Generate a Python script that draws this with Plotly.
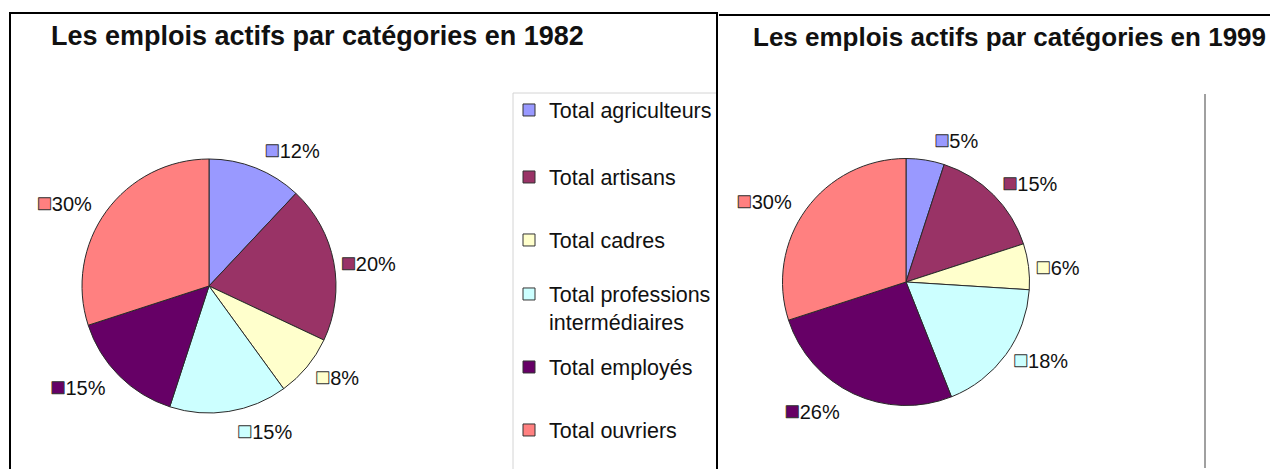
import math
import plotly.graph_objects as go

# ---- data ----
categories = [
    "Total agriculteurs",
    "Total artisans",
    "Total cadres",
    "Total professions<br>intermédiaires",
    "Total employés",
    "Total ouvriers",
]
values_1982 = [12, 20, 8, 15, 15, 30]
values_1999 = [5, 15, 6, 18, 26, 30]
colors = ["#9999FF", "#993366", "#FFFFCC", "#CCFFFF", "#660066", "#FF8080"]
titles = [
    "Les emplois actifs par catégories en 1982",
    "Les emplois actifs par catégories en 1999",
]

W, H = 1270, 469
def px(x):
    return x / W
def py(y):
    return 1 - y / H

FONT = "Liberation Sans, Arial, Helvetica, sans-serif"
NB = "\u00a0"

def key(c):
    return (f"<span style='color:{c};stroke:#333333;stroke-width:0.9px;"
            f"font-size:25px'>■</span>")

def label_templates(values):
    """Outside labels: coloured key + percentage, with a little extra
    vertical padding for labels sitting above / below the pie."""
    total = sum(values)
    out, cum = [], 0
    for v, c in zip(values, colors):
        mid = (cum + v / 2) / total * 2 * math.pi   # clockwise from 12 o'clock
        cum += v
        body = f"<span style='font-size:20px'>{key(c)}%{{percent:.0%}}{NB}</span>"
        vert = math.cos(mid)
        if vert > 0.55:
            body = body + "<br>" + NB          # pad below -> label moves up
        elif vert < -0.6:
            body = NB + "<br>" + NB + "<br>" + body   # pad above -> label moves down
        out.append(body)
    return out

fig = go.Figure()

pie_common = dict(
    labels=categories,
    sort=False,
    direction="clockwise",
    rotation=0,
    marker=dict(colors=colors, line=dict(color="#2a2a2a", width=1)),
    textposition="outside",
    textfont=dict(family=FONT, size=8, color="#111111"),
    showlegend=False,
    hoverinfo="label+percent",
)

fig.add_trace(go.Pie(values=values_1982, texttemplate=label_templates(values_1982),
                     domain=dict(x=[px(82), px(336)], y=[py(413), py(159)]),
                     **pie_common))
fig.add_trace(go.Pie(values=values_1999, texttemplate=label_templates(values_1999),
                     domain=dict(x=[px(782.5), px(1029.5)], y=[py(405.5), py(158.5)]),
                     **pie_common))

# legend entries (one small legend per entry, to reproduce the spacing)
legend_rows = [110, 177, 240, 308, 367, 430]
legend_layouts = {}
for i, (cat, col) in enumerate(zip(categories, colors)):
    lname = "legend" if i == 0 else f"legend{i+1}"
    fig.add_trace(go.Scatter(
        x=[None], y=[None], mode="markers", name=cat,
        marker=dict(symbol="square", size=12, color=col,
                    line=dict(color="#333333", width=1)),
        legend=lname, showlegend=True, hoverinfo="skip",
    ))
    legend_layouts[lname] = dict(
        x=px(509), xanchor="left", y=py(legend_rows[i]), yanchor="middle",
        bgcolor="rgba(0,0,0,0)", borderwidth=0, valign="top",
        font=dict(family=FONT, size=21.5, color="#111111"),
    )

shapes = [
    # left panel frame
    dict(type="rect", xref="paper", yref="paper", x0=px(10), x1=px(717),
         y0=py(480), y1=py(13), line=dict(color="black", width=2)),
    # right panel top border
    dict(type="line", xref="paper", yref="paper", x0=px(719), x1=px(1270),
         y0=py(15), y1=py(15), line=dict(color="black", width=2)),
    # legend box (left)
    dict(type="line", xref="paper", yref="paper", x0=px(513), x1=px(716),
         y0=py(93), y1=py(93), line=dict(color="#d4d4d4", width=1)),
    dict(type="line", xref="paper", yref="paper", x0=px(513), x1=px(513),
         y0=py(93), y1=py(470), line=dict(color="#d4d4d4", width=1)),
    # legend box edge (right)
    dict(type="line", xref="paper", yref="paper", x0=px(1205), x1=px(1205),
         y0=py(94), y1=py(468), line=dict(color="#a0a0a0", width=2)),
]

annotations = [
    dict(text=f"<b>{titles[0]}</b>", xref="paper", yref="paper",
         x=px(49), y=py(36), xanchor="left", yanchor="middle", showarrow=False,
         font=dict(family=FONT, size=27, color="#111111")),
    dict(text=f"<b>{titles[1]}</b>", xref="paper", yref="paper",
         x=px(751), y=py(37), xanchor="left", yanchor="middle", showarrow=False,
         font=dict(family=FONT, size=26, color="#111111")),
]

fig.update_layout(
    width=W, height=H,
    margin=dict(l=0, r=0, t=0, b=0),
    paper_bgcolor="white", plot_bgcolor="white",
    xaxis=dict(visible=False), yaxis=dict(visible=False),
    shapes=shapes, annotations=annotations,
    **legend_layouts,
)

fig.write_html("out.html", config={"displayModeBar": False},
               post_script="document.body.style.margin='0px';")
